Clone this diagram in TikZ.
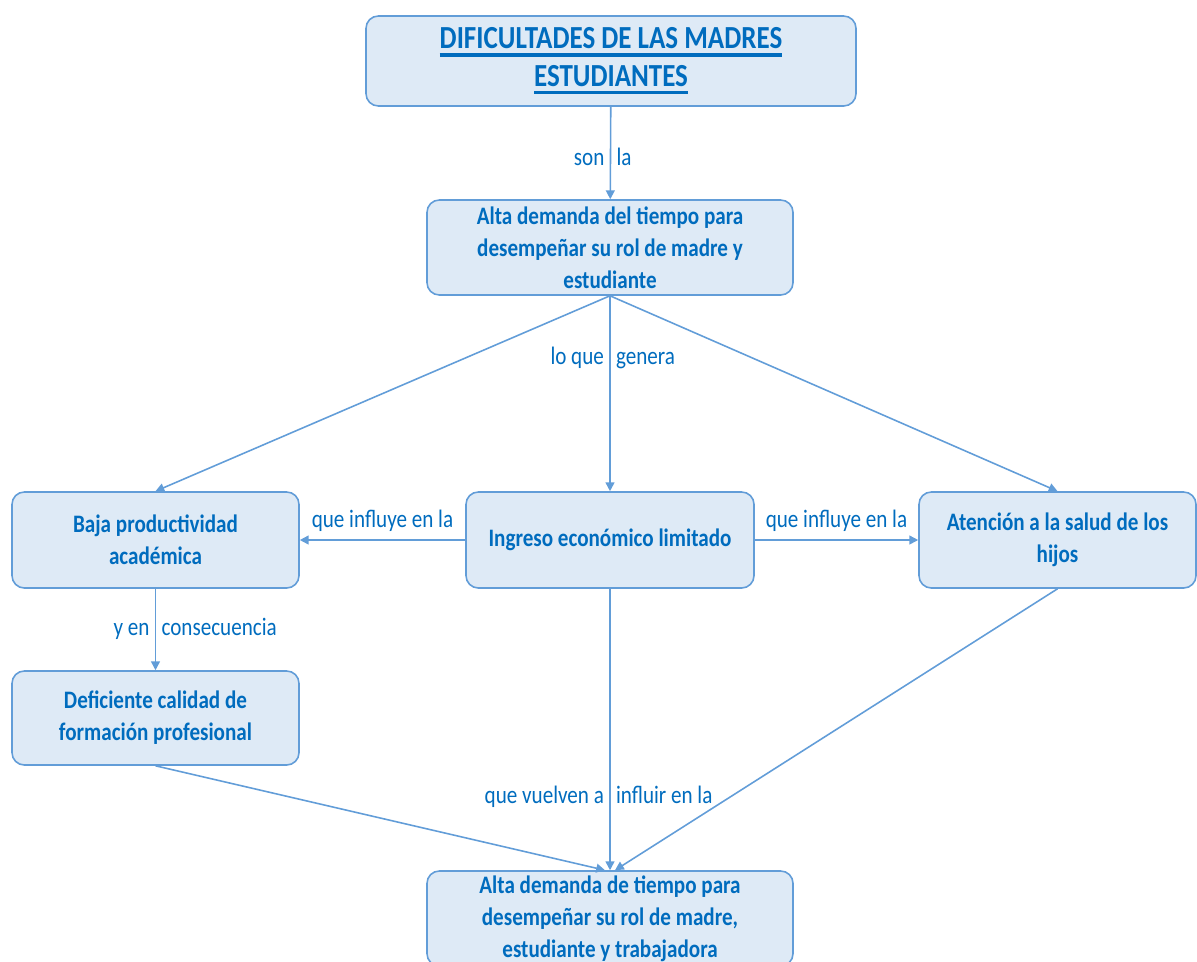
\documentclass[tikz,border=0pt]{standalone}
\usepackage{fontspec}
\setmainfont{Carlito}[FakeStretch=0.84]
\usepackage{xcolor}
\definecolor{mdtext}{RGB}{0,108,190}
\definecolor{mdline}{RGB}{98,157,216}
\definecolor{mdfill}{RGB}{222,234,246}
\usepackage{tikz}
\usetikzlibrary{arrows.meta, positioning}
\newcommand{\thickul}[1]{\setbox0\hbox{#1}\leavevmode\rlap{\rule[-4.5pt]{\wd0}{1.8pt}}\box0}

\tikzset{
  mdbox/.style={draw=mdline,fill=mdfill,line width=0.9pt,rounded corners=7pt,
    text=mdtext,font=\fontsize{14.3}{18.2}\selectfont\bfseries,align=center,
    minimum height=1.9cm,inner sep=2pt},
  mdarrow/.style={draw=mdline,line width=0.9pt,-{Triangle[length=5pt,width=5pt]}},
  mdlabel/.style={text=mdtext,font=\fontsize{14.3}{16}\selectfont,inner sep=3pt,
    text height=2.1ex,text depth=0.6ex}
}

\begin{document}
\begin{tikzpicture}
  \useasboundingbox (0,0) rectangle (23.94,-19.22);

  \node[mdbox,minimum width=9.8cm,minimum height=1.8cm,font=\fontsize{18.3}{21.5}\selectfont\bfseries] (titulo) at (12.22,-1.22)
    {\thickul{DIFICULTADES DE LAS MADRES}\\\thickul{ESTUDIANTES}};
  \node[mdbox,minimum width=7.32cm] (demanda) at (12.2,-4.95)
    {Alta demanda del tiempo para\\desempeñar su rol de madre y\\estudiante};
  \node[mdbox,minimum width=5.74cm,minimum height=1.92cm] (baja) at (3.11,-10.8)
    {Baja productividad\\académica};
  \node[mdbox,minimum width=5.76cm,minimum height=1.92cm] (ingreso) at (12.2,-10.8)
    {Ingreso económico limitado};
  \node[mdbox,minimum width=5.54cm,minimum height=1.92cm] (salud) at (21.15,-10.8)
    {Atención a la salud de los\\hijos};
  \node[mdbox,minimum width=5.74cm,minimum height=1.88cm] (formacion) at (3.11,-14.36)
    {Deficiente calidad de\\formación profesional};
  \node[mdbox,minimum width=7.32cm] (trabajo) at (12.2,-18.37)
    {Alta demanda de tiempo para\\desempeñar su rol de madre,\\estudiante y trabajadora};

  \draw[mdarrow] (titulo) -- (demanda)
    node[mdlabel,pos=0.57,left] {son} node[mdlabel,pos=0.57,right] {la};
  \draw[mdarrow] (demanda.south) -- (baja.north);
  \draw[mdarrow] (demanda.south) -- (ingreso.north)
    node[mdlabel,pos=0.32,left] {lo que} node[mdlabel,pos=0.32,right] {genera};
  \draw[mdarrow] (demanda.south) -- (salud.north);
  \draw[mdarrow] (ingreso) -- (baja)
    node[mdlabel,midway,above=1pt] {que influye en la};
  \draw[mdarrow] (ingreso) -- (salud)
    node[mdlabel,midway,above=1pt] {que influye en la};
  \draw[mdarrow] (baja) -- (formacion)
    node[mdlabel,midway,left] {y en} node[mdlabel,midway,right] {consecuencia};
  \draw[mdarrow] (formacion.south) -- ([xshift=-0.1cm]trabajo.north);
  \draw[mdarrow] (ingreso) -- (trabajo)
    node[mdlabel,pos=0.74,left] {que vuelven a} node[mdlabel,pos=0.74,right] {influir en la};
  \draw[mdarrow] (salud.south) -- ([xshift=0.1cm]trabajo.north);
\end{tikzpicture}
\end{document}
